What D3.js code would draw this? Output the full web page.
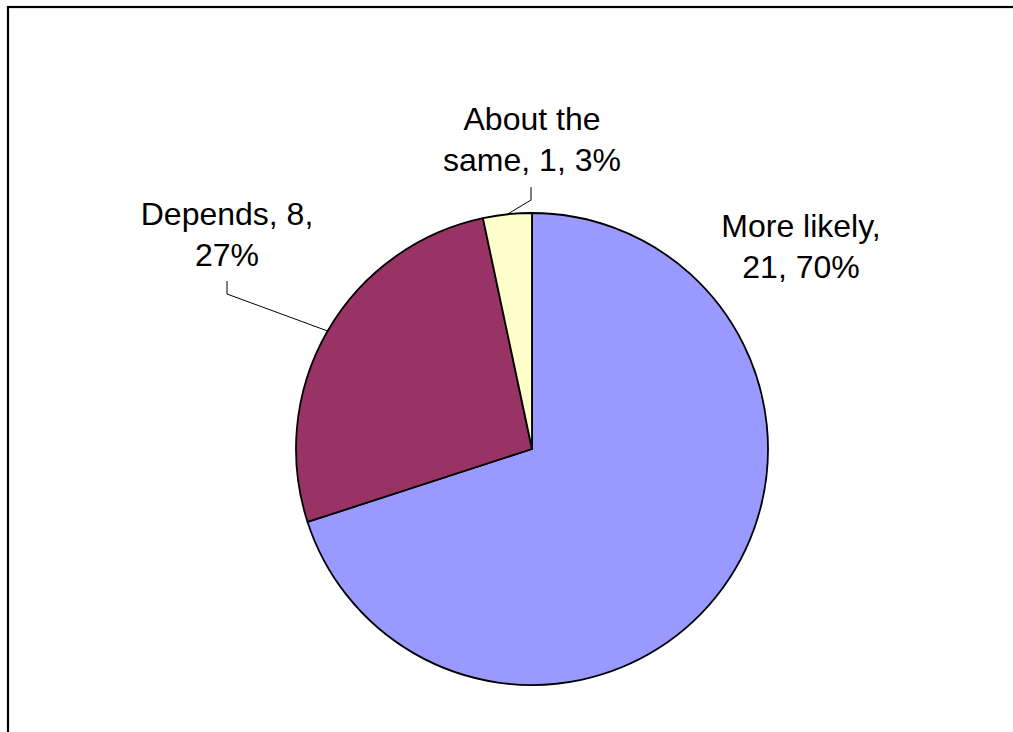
<!DOCTYPE html>
<html><head><meta charset="utf-8">
<script src="https://cdn.jsdelivr.net/npm/d3@7"></script>
<style>html,body{margin:0;padding:0;background:#fff;overflow:hidden}</style>
</head><body>
<svg id="chart" width="1013" height="732"></svg>
<script>
const categories = ["More likely", "Depends", "About the same"];
const counts = [21, 8, 1];
const percents = ["70%", "27%", "3%"];
const colors = ["#9999FF", "#993366", "#FFFFCC"];
const labelLines = [["More likely,", "21, 70%"], ["Depends, 8,", "27%"], ["About the", "same, 1, 3%"]];

const svg = d3.select("#chart");
svg.append("rect").attr("x", 8).attr("y", 7).attr("width", 1020).attr("height", 740)
  .attr("fill", "#fff").attr("stroke", "#000").attr("stroke-width", 2.2);

const cx = 532, cy = 449, r = 236;
const pie = d3.pie().sort(null).value(d => d);
const arcs = pie(counts);
const arc = d3.arc().innerRadius(0).outerRadius(r);
const g = svg.append("g").attr("transform", `translate(${cx},${cy})`);
g.selectAll("path").data(arcs).enter().append("path")
  .attr("d", arc).attr("fill", (d, i) => colors[i])
  .attr("stroke", "#000").attr("stroke-width", 1.8).attr("stroke-linejoin", "round");

// label anchor positions (center x, first baseline y)
const labelPos = [[801, 237], [227, 225], [532, 130]];
const lineH = 41;
const leaders = [null, [227, 281, 294], [531, 187, 200]];

labelLines.forEach((lines, i) => {
  const t = svg.append("text").attr("text-anchor", "middle")
    .attr("font-family", "Arial, 'Liberation Sans', sans-serif").attr("font-size", 32).attr("fill", "#000");
  lines.forEach((s, j) => {
    t.append("tspan").attr("x", labelPos[i][0]).attr("y", labelPos[i][1] + j * lineH).text(s);
  });
  const L = leaders[i];
  if (L) {
    const a = (arcs[i].startAngle + arcs[i].endAngle) / 2;
    const ex = cx + r * Math.sin(a), ey = cy - r * Math.cos(a);
    svg.append("path").attr("d", `M${L[0]},${L[1]}L${L[0]},${L[2]}L${ex},${ey}`)
      .attr("fill", "none").attr("stroke", "#000").attr("stroke-width", 1);
  }
});
</script>
</body></html>
